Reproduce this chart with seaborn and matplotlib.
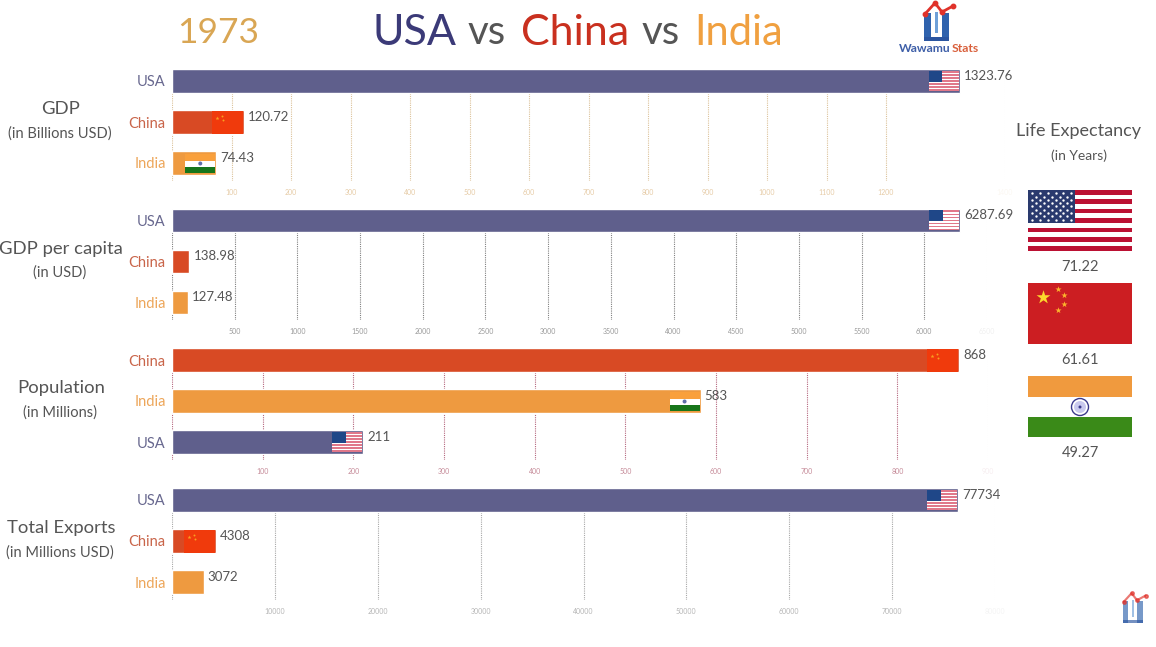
import matplotlib
matplotlib.use('Agg')
import matplotlib.pyplot as plt
from matplotlib.patches import Rectangle, Circle
import pandas as pd
import seaborn as sns

year = '1973'

gdp_countries = ['USA', 'China', 'India']
gdp_values = [1323.76, 120.72, 74.43]
gdp_labels = ['1323.76', '120.72', '74.43']
# the source frame has no 1300 tick, the last one is fading out
gdp_ticks = [0, 100, 200, 300, 400, 500, 600, 700, 800, 900, 1000, 1100, 1200, 1400]

gdpcap_countries = ['USA', 'China', 'India']
gdpcap_values = [6287.69, 138.98, 127.48]
gdpcap_labels = ['6287.69', '138.98', '127.48']
gdpcap_ticks = [0, 500, 1000, 1500, 2000, 2500, 3000, 3500, 4000, 4500, 5000, 5500, 6000, 6500]

pop_countries = ['China', 'India', 'USA']
pop_values = [868, 583, 211]
pop_labels = ['868', '583', '211']
pop_ticks = [0, 100, 200, 300, 400, 500, 600, 700, 800, 900]

# the USA bar stops short of its printed value in the source frame
exports_countries = ['USA', 'China', 'India']
exports_values = [76400, 4308, 3072]
exports_labels = ['77734', '4308', '3072']
exports_ticks = [0, 10000, 20000, 30000, 40000, 50000, 60000, 70000, 80000]

life_countries = ['USA', 'China', 'India']
life_values = ['71.22', '61.61', '49.27']

W, H = 1156, 647
colors = {'USA': '#5f5f8c', 'China': '#d84a24', 'India': '#ee9a40'}
label_colors = {'USA': '#68688f', 'China': '#c9654a', 'India': '#eda65a'}
TEXT = '#555555'

sns.set_theme(style='white')
plt.rcParams['font.family'] = ['Lato', 'DejaVu Sans']

fig = plt.figure(figsize=(W / 100, H / 100), dpi=100, facecolor='white')

overlay = fig.add_axes([0, 0, 1, 1], zorder=10)
overlay.set_xlim(0, W)
overlay.set_ylim(H, 0)
overlay.axis('off')
overlay.patch.set_alpha(0)


def rect(x, y, w, h, color, **kw):
    overlay.add_patch(Rectangle((x, y), w, h, facecolor=color, edgecolor='none', **kw))


def flag_usa(x, y, w, h, star=1.0, red='#bb1133', blue='#2a3a6e'):
    stripe = h / 13
    rect(x, y, w, h, 'white')
    for i in range(0, 13, 2):
        rect(x, y + i * stripe, w, stripe, red)
    rect(x, y, w * 0.455, stripe * 7, blue)
    if star:
        cw, ch = w * 0.455, stripe * 7
        xs, ys = [], []
        for r in range(9):
            n = 6 if r % 2 == 0 else 5
            off = 1 if r % 2 == 0 else 2
            for c in range(n):
                xs.append(x + cw * (off + 2 * c) / 12)
                ys.append(y + ch * (r + 1) / 10)
        overlay.scatter(xs, ys, s=star, color='white', marker='o', linewidths=0)


def flag_small_usa(x_right, yc):
    flag_usa(x_right - 30, yc - 10, 30, 20, star=0, red='#e0788a', blue='#1f4788')


def flag_small_china(x_right, yc):
    rect(x_right - 31, yc - 11.5, 31, 23, '#f03a0c')
    overlay.scatter([x_right - 26], [yc - 4.5], s=9, color='#f9a020', marker='*', linewidths=0)
    overlay.scatter([x_right - 21, x_right - 20], [yc - 6, yc - 2], s=2, color='#f9a020', linewidths=0)


def flag_small_india(x_right, yc):
    rect(x_right - 30, yc - 9.5, 30, 7, '#f9a03c')
    rect(x_right - 30, yc - 2.5, 30, 6, 'white')
    rect(x_right - 30, yc + 3.5, 30, 6, '#17751a')
    overlay.add_patch(Circle((x_right - 15, yc + 0.5), 2, facecolor='#5f6fa8', edgecolor='none'))


small_flags = {'USA': flag_small_usa, 'China': flag_small_china, 'India': flag_small_india}


def draw_panel(top, right_px, countries, values, labels, ticks, tick_color, grid_color, flagged):
    axes_bottom = top + 111
    ax = fig.add_axes([172 / W, 1 - axes_bottom / H, (right_px - 172) / W, 111 / H])
    df = pd.DataFrame({'country': countries, 'value': values})
    sns.barplot(data=df, x='value', y='country', hue='country', order=countries,
                palette=colors, width=0.58, saturation=1, legend=False, ax=ax)
    ax.set_xlim(0, ticks[-1])
    ax.set_ylim(2 + 17.5 / 41, -11.5 / 41)
    ax.set_xlabel('')
    ax.set_ylabel('')
    ax.patch.set_alpha(0)
    sns.despine(ax=ax, left=True, bottom=True)

    ax.set_xticks(ticks)
    ax.set_xticklabels([''] + [str(t) for t in ticks[1:]])
    ax.tick_params(axis='x', length=0, pad=6, labelsize=5, labelcolor=tick_color)
    ax.tick_params(axis='y', length=0, pad=4.5, labelsize=10.5)
    ax.set_axisbelow(True)
    ax.xaxis.grid(True, linestyle=(0, (1, 1)), linewidth=0.8, color=grid_color)
    ax.xaxis.get_gridlines()[-1].set_alpha(0.12)
    ax.get_xticklabels()[-1].set_alpha(0.15)
    for lab in ax.get_yticklabels():
        lab.set_color(label_colors[lab.get_text()])

    for i, (country, value, label) in enumerate(zip(countries, values, labels)):
        end_x, center_y = ax.transData.transform((value, i))
        center_y = H - center_y
        overlay.text(end_x + 4, center_y - 5, label, color=TEXT, fontsize=9.5, ha='left', va='center')
        if country in flagged:
            small_flags[country](end_x - 1, center_y)


draw_panel(69.5, 1005, gdp_countries, gdp_values, gdp_labels, gdp_ticks,
           '#e6cba6', '#dcc29a', ['USA', 'China', 'India'])
draw_panel(209, 987, gdpcap_countries, gdpcap_values, gdpcap_labels, gdpcap_ticks,
           '#9a9a9a', '#808080', ['USA'])
draw_panel(348.5, 988, pop_countries, pop_values, pop_labels, pop_ticks,
           '#c58a98', '#b5677f', ['China', 'India', 'USA'])
draw_panel(488.5, 995, exports_countries, exports_values, exports_labels, exports_ticks,
           '#b5b5b5', '#a8a8a8', ['USA', 'China'])

# title
for txt, x0, col, size in [(year, 177, '#d9a654', 25.5), ('USA', 372, '#3b3a78', 31), ('vs', 468, TEXT, 29),
                           ('China', 521, '#c9301f', 31), ('vs', 642, TEXT, 29), ('India', 694, '#f0a040', 30)]:
    overlay.text(x0, 33, txt, color=col, fontsize=size, ha='left', va='center')

# panel names on the left
panel_names = [('GDP', '(in Billions USD)', 109, 134), ('GDP per capita', '(in USD)', 249, 273),
               ('Population', '(in Millions)', 388, 413), ('Total Exports', '(in Millions USD)', 528, 553)]
for name, unit, y1, y2 in panel_names:
    overlay.text(61, y1, name, color=TEXT, fontsize=13.3, ha='center', va='center')
    overlay.text(60, y2, unit, color=TEXT, fontsize=10.5, ha='center', va='center')

# life expectancy column
overlay.text(1079, 131, 'Life Expectancy', color=TEXT, fontsize=13, ha='center', va='center')
overlay.text(1079, 156, '(in Years)', color=TEXT, fontsize=10, ha='center', va='center')

flag_usa(1028, 190, 104, 61, star=3)

rect(1028, 283, 104, 61, '#cc1e22')
overlay.scatter([1043], [297], s=110, color='#fcd92c', marker='*', linewidths=0)
overlay.scatter([1058, 1064, 1064, 1058], [289, 295, 304, 310], s=22, color='#fcb52c', marker='*', linewidths=0)

rect(1028, 376, 104, 21, '#f09a3e')
rect(1028, 417, 104, 20, '#3a8a18')
overlay.add_patch(Circle((1080, 407), 8.5, facecolor='white', edgecolor='#3b3a8c', linewidth=1))
overlay.add_patch(Circle((1080, 407), 6, facecolor='#c9c9ee', edgecolor='none'))
overlay.add_patch(Circle((1080, 407), 1.5, facecolor='#3b3a8c', edgecolor='none'))

for country, val, y in zip(life_countries, life_values, [267, 360, 453]):
    overlay.text(1080, y, val, color=TEXT, fontsize=10.5, ha='center', va='center')


def logo(x, y, s, alpha):
    # x, y = top-left corner of the blue U
    rect(x, y, 7 * s, 28 * s, '#2f62ad', alpha=alpha)
    rect(x + 18 * s, y, 7 * s, 28 * s, '#2f62ad', alpha=alpha)
    rect(x, y + 24 * s, 25 * s, 4 * s, '#2a55a0', alpha=alpha)
    rect(x + 11 * s, y - 1 * s, 3 * s, 21 * s, '#6fa0d8', alpha=alpha)
    lx = [x + 1 * s, x + 11 * s, x + 18 * s, x + 29 * s]
    ly = [y + 1 * s, y - 10 * s, y - 1 * s, y - 7 * s]
    overlay.plot(lx, ly, color='#e0322a', lw=2 * s, alpha=alpha, marker='o', ms=3.2 * s, solid_capstyle='round')


logo(924, 13, 1.0, 1.0)
logo(1123, 601, 0.78, 0.65)
overlay.text(899, 48, 'Wawamu', color='#3e5fa8', fontsize=8.7, fontweight='bold', ha='left', va='center')
overlay.text(951.5, 48, 'Stats', color='#d9603c', fontsize=8.7, fontweight='bold', ha='left', va='center')

fig.savefig('out.png', dpi=100, facecolor='white')
